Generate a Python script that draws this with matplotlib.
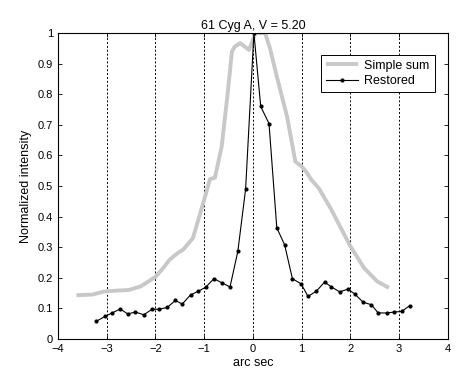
import matplotlib
matplotlib.use('Agg')
import matplotlib.pyplot as plt

# Data
sum_x = [-3.62, -3.3, -3.05, -2.8, -2.55, -2.3, -2.0, -1.85, -1.71, -1.55, -1.43, -1.23,
         -1.02, -0.88, -0.78, -0.64, -0.52, -0.43, -0.37, -0.26, -0.08, 0.05, 0.25, 0.35,
         0.49, 0.70, 0.87, 1.0, 1.1, 1.2, 1.35, 1.59, 2.0, 2.28, 2.55, 2.79]
sum_y = [0.143, 0.145, 0.155, 0.158, 0.160, 0.172, 0.203, 0.23, 0.259, 0.28, 0.292, 0.33,
         0.444, 0.523, 0.527, 0.63, 0.80, 0.94, 0.956, 0.967, 0.945, 1.0, 1.0, 0.95,
         0.858, 0.727, 0.58, 0.564, 0.545, 0.52, 0.493, 0.428, 0.303, 0.232, 0.188, 0.167]

rest_x = [-3.21, -3.03, -2.89, -2.72, -2.57, -2.41, -2.24, -2.07, -1.93, -1.76, -1.59,
          -1.45, -1.28, -1.12, -0.97, -0.80, -0.63, -0.47, -0.31, -0.15, 0.02, 0.16, 0.33,
          0.49, 0.65, 0.81, 0.99, 1.13, 1.30, 1.47, 1.61, 1.78, 1.95, 2.09, 2.26, 2.43,
          2.57, 2.75, 2.90, 3.05, 3.22]
rest_y = [0.058, 0.074, 0.085, 0.098, 0.082, 0.088, 0.079, 0.097, 0.097, 0.103, 0.126,
          0.114, 0.144, 0.156, 0.169, 0.197, 0.183, 0.170, 0.286, 0.49, 1.0, 0.76, 0.704,
          0.363, 0.308, 0.197, 0.18, 0.139, 0.156, 0.186, 0.170, 0.154, 0.163, 0.147, 0.120,
          0.112, 0.085, 0.085, 0.088, 0.090, 0.109]

plt.rcParams['font.family'] = ['Liberation Sans', 'DejaVu Sans']
plt.rcParams['font.size'] = 8

fig = plt.figure(figsize=(4.71, 3.80), dpi=100)
ax = fig.add_axes([0.123, 0.108, 0.828, 0.805])

ax.plot(sum_x, sum_y, color='#c8c8c8', lw=2.8, label='Simple sum', solid_capstyle='butt')
ax.plot(rest_x, rest_y, color='black', lw=0.8, marker='.', markersize=4, label='Restored')

ax.set_xlim(-4, 4)
ax.set_ylim(0, 1)
ax.set_xticks(range(-4, 5))
ax.set_yticks([i / 10 for i in range(11)])
ax.set_yticklabels(['0', '0.1', '0.2', '0.3', '0.4', '0.5', '0.6', '0.7', '0.8', '0.9', '1'])
ax.xaxis.grid(True, linestyle=(0, (2, 2)), color='black', lw=0.7)
ax.tick_params(direction='in', top=True, right=True, length=3, width=0.6, labelsize=8)
for s in ax.spines.values():
    s.set_linewidth(0.8)

ax.set_xlabel('arc sec', fontsize=9, labelpad=2)
ax.set_ylabel('Normalized intensity', fontsize=9, labelpad=4)
ax.set_title('61 Cyg A, V = 5.20', fontsize=9, pad=3)

leg = ax.legend(loc='upper right', bbox_to_anchor=(0.982, 0.95), fancybox=False,
                edgecolor='black', framealpha=1, fontsize=9, handlelength=2.6,
                handletextpad=0.5, borderpad=0.4, labelspacing=0.3)
leg.get_frame().set_linewidth(0.7)

fig.savefig('out.png', dpi=100)
